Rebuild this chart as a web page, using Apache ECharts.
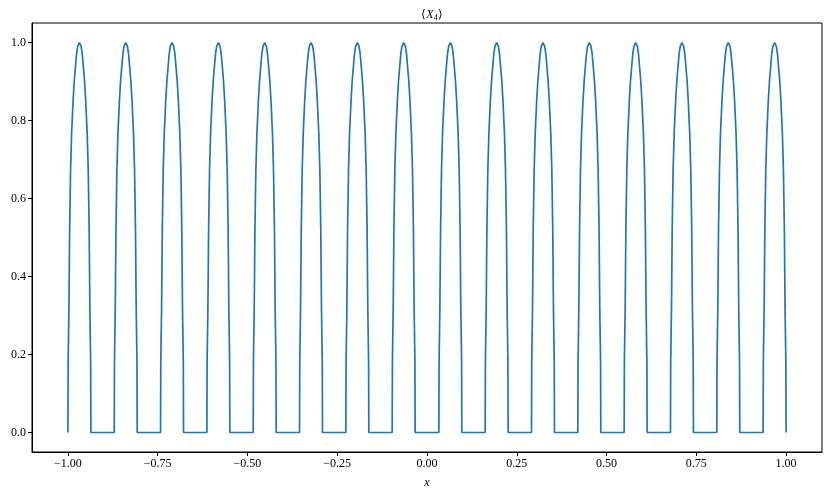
<!DOCTYPE html>
<html>
<head>
<meta charset="utf-8">
<script src="https://cdn.jsdelivr.net/npm/echarts@6/dist/echarts.min.js"></script>
<style>
  html, body { margin: 0; padding: 0; background: #fff; }
  #chart { width: 830px; height: 495px; }
</style>
</head>
<body>
<div id="chart"></div>
<script>
// hump centres (x units)
const humpCenters = [-0.968, -0.839, -0.710, -0.581, -0.452, -0.323, -0.194, -0.065,
                     0.065, 0.194, 0.323, 0.452, 0.581, 0.710, 0.839, 0.968];
const humpHalfWidth = 0.032;
// hump shape: distance from centre (fraction of half width) -> value
const profileOffsets = [1, 0.98, 0.91, 0.85, 0.77, 0.68, 0.55, 0.45, 0.35, 0.25, 0.15, 0];
const profileValues  = [0, 0.18, 0.32, 0.52, 0.67, 0.765, 0.85, 0.90, 0.936, 0.97, 0.99, 1];

const xTicks = [-1, -0.75, -0.5, -0.25, 0, 0.25, 0.5, 0.75, 1];
const yTicks = [0, 0.2, 0.4, 0.6, 0.8, 1.0];

// build the point list, left flank then right flank of every hump
const points = [];
humpCenters.forEach((c) => {
  for (let i = 0; i < profileOffsets.length; i++) {
    points.push([c - profileOffsets[i] * humpHalfWidth, profileValues[i]]);
  }
  for (let i = profileOffsets.length - 2; i >= 0; i--) {
    points.push([c + profileOffsets[i] * humpHalfWidth, profileValues[i]]);
  }
});

const fmt = (v, d) => v.toFixed(d).replace('-', '\u2212');
const serif = 'Liberation Serif';

const chart = echarts.init(document.getElementById('chart'));
chart.setOption({
  animation: false,
  textStyle: { fontFamily: serif },
  title: {
    text: '\u27E8{i|X}{s|4}\u27E9',
    left: 427,
    top: 3,
    textAlign: 'center',
    textStyle: {
      fontFamily: serif,
      fontSize: 12,
      fontWeight: 'normal',
      color: '#000',
      rich: {
        i: { fontFamily: serif, fontSize: 12, fontStyle: 'italic', color: '#000' },
        s: { fontFamily: serif, fontSize: 8, color: '#000', padding: [6, 0, 0, 0] }
      }
    }
  },
  grid: {
    left: 32, right: 8, top: 23, bottom: 43,
    show: true, borderColor: '#000', borderWidth: 1
  },
  xAxis: {
    type: 'value',
    min: -1.1, max: 1.1,
    name: 'x',
    nameLocation: 'middle',
    nameGap: 25,
    nameTextStyle: { fontFamily: serif, fontStyle: 'italic', fontSize: 12, color: '#000' },
    splitLine: { show: false },
    axisLine: { onZero: false, lineStyle: { color: '#000', width: 1 } },
    axisTick: { customValues: xTicks, length: 4, lineStyle: { color: '#000' } },
    axisLabel: {
      customValues: xTicks,
      formatter: (v) => fmt(v, 2),
      fontFamily: serif, fontSize: 12, color: '#000', margin: 6
    }
  },
  yAxis: {
    type: 'value',
    min: -0.05, max: 1.05,
    splitLine: { show: false },
    axisLine: { show: true, onZero: false, lineStyle: { color: '#000', width: 1 } },
    axisTick: { show: true, customValues: yTicks, length: 4, lineStyle: { color: '#000' } },
    axisLabel: {
      customValues: yTicks,
      formatter: (v) => fmt(v, 1),
      fontFamily: serif, fontSize: 12, color: '#000', margin: 6
    }
  },
  series: [{
    type: 'line',
    data: points,
    showSymbol: false,
    lineStyle: { color: '#1f77b4', width: 1.7 },
    itemStyle: { color: '#1f77b4' }
  }]
});
</script>
</body>
</html>
